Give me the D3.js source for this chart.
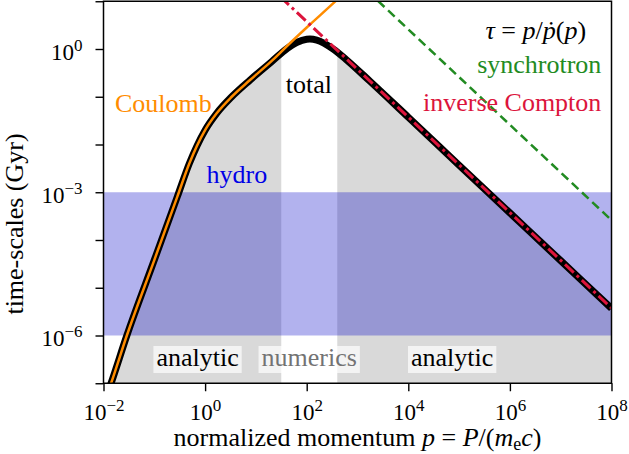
<!DOCTYPE html>
<html lang="en">
<head>
<meta charset="UTF-8">
<title>Cooling time-scales</title>
<style>
  body { margin: 0; background: #fff; }
  text { font-family: "Liberation Serif", "Times New Roman", serif; }
</style>
</head>
<body>
<div id="chart"></div>
<script src="https://d3js.org/d3.v7.min.js"></script>
<script>
// momentum grid (p = P / m_e c) and time-scales in Gyr
var pTotal   = [0.0126, 0.0141, 0.0288, 0.1, 0.284, 0.489, 1, 1.69, 3.34, 7.66, 20.5, 41.5, 63.1, 100, 116, 158, 334, 631, 1760, 1e4, 1e5, 1e6, 1e7, 1e8];
var tauTotal = [7.1e-8, 1.0e-7, 1.0e-6, 3.8e-5, 8.1e-4, 4.0e-3, 2.0e-2, 4.5e-2, 0.100, 0.224, 0.546, 1.035, 1.368, 1.607, 1.622, 1.542, 0.998, 0.573, 0.211, 0.0373, 3.69e-3, 3.69e-4, 3.69e-5, 3.69e-6];

var pCoulomb   = [0.0126, 0.0141, 0.0288, 0.1, 0.284, 0.489, 1, 1.69, 3.34, 7.66, 20.5, 41.5, 100, 361, 500];
var tauCoulomb = [7.1e-8, 1.0e-7, 1.0e-6, 3.8e-5, 8.1e-4, 4.0e-3, 2.0e-2, 4.5e-2, 0.100, 0.224, 0.562, 1.17, 2.82, 9.8, 13.6];

var pIC   = [30, 1e8];
var tauIC = [12.5, 3.74e-6];

var pSync   = [1e3, 1e8];
var tauSync = [25.7, 2.6e-4];

var hydroBand = [1e-6, 1e-3];
var numericsRange = [31.6, 400];

var xTicks = [1e-2, 1e0, 1e2, 1e4, 1e6, 1e8];
var yTicks = [1e-7, 1e-6, 1e-5, 1e-4, 1e-3, 1e-2, 1e-1, 1e0, 1e1];
var yLabelled = [1e-6, 1e-3, 1e0];

var W = 629, H = 454;
var pl = 103.5, pr = 611.5, pt = 1.25, pb = 383.25;

var svg = d3.select("#chart").append("svg")
    .attr("width", W).attr("height", H);

var x = d3.scaleLog().domain([1e-2, 1e8]).range([pl, pr]);
var y = d3.scaleLog().domain([1e-7, 1e1]).range([pb, pt]);

function zip(a, b) { return a.map(function(v, i) { return [v, b[i]]; }); }

var defs = svg.append("defs");
defs.append("clipPath").attr("id", "plot")
  .append("rect").attr("x", pl).attr("y", pt)
  .attr("width", pr - pl).attr("height", pb - pt);

var grayClip = defs.append("clipPath").attr("id", "analytic");
grayClip.append("rect").attr("x", x(1e-2)).attr("y", pt)
  .attr("width", x(numericsRange[0]) - x(1e-2)).attr("height", pb - pt);
grayClip.append("rect").attr("x", x(numericsRange[1])).attr("y", pt)
  .attr("width", x(1e8) - x(numericsRange[1])).attr("height", pb - pt);

var plot = svg.append("g").attr("clip-path", "url(#plot)");

// grey fill below the total curve where analytic solutions exist
var area = d3.area()
    .x(function(d) { return x(d[0]); })
    .y0(pb)
    .y1(function(d) { return y(d[1]); })
    .curve(d3.curveMonotoneX);

plot.append("g").attr("clip-path", "url(#analytic)")
  .append("path")
    .datum(zip(pTotal, tauTotal))
    .attr("d", area)
    .attr("fill", "#d9d9d9");

// hydro band
plot.append("rect")
    .attr("x", pl).attr("width", pr - pl)
    .attr("y", y(hydroBand[1]))
    .attr("height", y(hydroBand[0]) - y(hydroBand[1]))
    .attr("fill", "rgb(0,0,200)")
    .attr("fill-opacity", 0.3);

var line = d3.line()
    .x(function(d) { return x(d[0]); })
    .y(function(d) { return y(d[1]); })
    .curve(d3.curveMonotoneX);

plot.append("path").datum(zip(pTotal, tauTotal))
    .attr("d", line).attr("fill", "none")
    .attr("stroke", "black").attr("stroke-width", 7)
    .attr("stroke-linejoin", "round");

plot.append("path").datum(zip(pCoulomb, tauCoulomb))
    .attr("d", line).attr("fill", "none")
    .attr("stroke", "#ff8c00").attr("stroke-width", 2.5);

plot.append("path").datum(zip(pIC, tauIC))
    .attr("d", line).attr("fill", "none")
    .attr("stroke", "#dc143c").attr("stroke-width", 3)
    .attr("stroke-dasharray", "12,4,3,4");

plot.append("path").datum(zip(pSync, tauSync))
    .attr("d", line).attr("fill", "none")
    .attr("stroke", "#228b22").attr("stroke-width", 2.5)
    .attr("stroke-dasharray", "9,5");

// region labels with semi-transparent white boxes
function boxedLabel(px, txt, color) {
  var g = svg.append("g");
  var t = g.append("text")
      .attr("x", x(px)).attr("y", 366)
      .attr("text-anchor", "middle")
      .attr("font-size", 26)
      .attr("fill", color)
      .text(txt);
  var bb = t.node().getBBox();
  g.insert("rect", "text")
      .attr("x", bb.x - 3).attr("y", 346)
      .attr("width", bb.width + 6).attr("height", 27)
      .attr("fill", "white").attr("fill-opacity", 0.68);
}
boxedLabel(0.71, "analytic", "black");
boxedLabel(112, "numerics", "#737373");
boxedLabel(7.3e4, "analytic", "black");

// curve annotations
svg.append("text").attr("x", x(0.0168)).attr("y", y(0.0486))
    .attr("font-size", 26).attr("fill", "#ff8c00").text("Coulomb");
svg.append("text").attr("x", x(1.07)).attr("y", y(1.54e-3))
    .attr("font-size", 26).attr("fill", "#0000e6").text("hydro");
svg.append("text").attr("x", x(110)).attr("y", y(0.118))
    .attr("text-anchor", "middle")
    .attr("font-size", 26).attr("fill", "black").text("total");

function axFrac(fx, fy) {
  return [pl + fx * (pr - pl), pb - fy * (pb - pt)];
}

var eq = svg.append("text")
    .attr("x", axFrac(0.95, 0)[0]).attr("y", axFrac(0, 0.90)[1])
    .attr("text-anchor", "end").attr("font-size", 26);
eq.append("tspan").attr("font-style", "italic").text("τ");
eq.append("tspan").text(" = ");
eq.append("tspan").attr("font-style", "italic").text("p");
eq.append("tspan").text("/");
eq.append("tspan").attr("font-style", "italic").text("ṗ");
eq.append("tspan").text("(");
eq.append("tspan").attr("font-style", "italic").text("p");
eq.append("tspan").text(")");

svg.append("text")
    .attr("x", axFrac(0.98, 0)[0]).attr("y", axFrac(0, 0.813)[1])
    .attr("text-anchor", "end").attr("font-size", 26)
    .attr("fill", "#228b22").text("synchrotron");
svg.append("text")
    .attr("x", axFrac(0.98, 0)[0]).attr("y", axFrac(0, 0.713)[1])
    .attr("text-anchor", "end").attr("font-size", 26)
    .attr("fill", "#dc143c").text("inverse Compton");

// axes
function powLabel(sel, d) {
  var e = Math.round(Math.log10(d));
  sel.text("10");
  sel.append("tspan").attr("dy", -9).attr("font-size", 17)
    .text(e < 0 ? "\u2212" + (-e) : String(e));
}

var xAxis = svg.append("g")
    .attr("transform", "translate(0," + pb + ")")
    .call(d3.axisBottom(x).tickValues(xTicks).tickSize(8).tickSizeOuter(0).tickFormat(""));
xAxis.selectAll(".tick text")
    .attr("y", 0).attr("dy", 0)
    .attr("transform", "translate(0,37)")
    .attr("font-size", 23).attr("fill", "black")
    .attr("font-family", "Liberation Serif, serif")
    .each(function(d) { powLabel(d3.select(this), d); });

var yAxis = svg.append("g")
    .attr("transform", "translate(" + pl + ",0)")
    .call(d3.axisLeft(y).tickValues(yTicks).tickSize(8).tickSizeOuter(0).tickFormat(""));
yAxis.selectAll(".tick text")
    .attr("x", 0).attr("dy", 0)
    .attr("transform", "translate(-21,10)")
    .attr("font-size", 23).attr("fill", "black")
    .attr("font-family", "Liberation Serif, serif")
    .each(function(d) {
      if (yLabelled.indexOf(d) >= 0) powLabel(d3.select(this), d);
    });

svg.selectAll(".domain").remove();
svg.selectAll(".tick line").attr("stroke", "black").attr("stroke-width", 1.4);

svg.append("rect")
    .attr("x", pl).attr("y", pt)
    .attr("width", pr - pl).attr("height", pb - pt)
    .attr("fill", "none").attr("stroke", "black").attr("stroke-width", 1.5);

// axis titles
var xl = svg.append("text")
    .attr("x", (pl + pr) / 2).attr("y", 446)
    .attr("text-anchor", "middle").attr("font-size", 26);
xl.append("tspan").text("normalized momentum ");
xl.append("tspan").attr("font-style", "italic").text("p");
xl.append("tspan").text(" = ");
xl.append("tspan").attr("font-style", "italic").text("P");
xl.append("tspan").text("/(");
xl.append("tspan").attr("font-style", "italic").text("m");
xl.append("tspan").attr("font-size", 18).attr("dy", 4).text("e");
xl.append("tspan").attr("font-style", "italic").attr("dy", -4).text("c");
xl.append("tspan").text(")");

svg.append("text")
    .attr("transform", "translate(23,224) rotate(-90)")
    .attr("text-anchor", "middle").attr("font-size", 26)
    .text("time-scales (Gyr)");
</script>
</body>
</html>
